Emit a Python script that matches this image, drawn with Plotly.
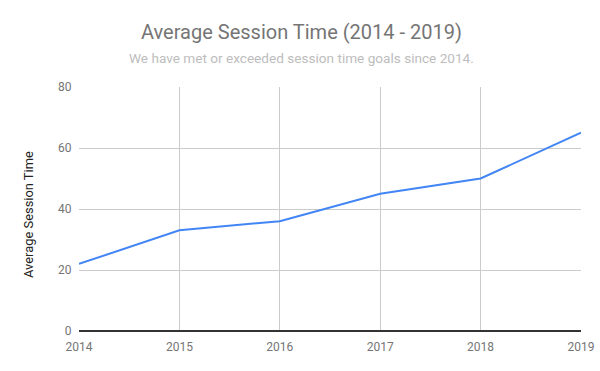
import plotly.graph_objects as go

years = [2014, 2015, 2016, 2017, 2018, 2019]
session_time = [22, 33, 36, 45, 50, 65]
y_ticks = [0, 20, 40, 60, 80]

W, H = 600, 371
L, R, T, B = 79, 19, 87, 40
ph = H - T - B
pw = W - L - R

def ypix(p):
    return (H - B - p) / ph

def xpix(p):
    return (p - L) / pw

fig = go.Figure()
fig.add_trace(go.Scatter(x=years, y=session_time, mode="lines",
                         line=dict(color="#4285F4", width=2), hoverinfo="x+y"))

fig.update_layout(
    width=W, height=H,
    margin=dict(l=L, r=R, t=T, b=B, autoexpand=False),
    plot_bgcolor="white", paper_bgcolor="white",
    font=dict(family="Roboto", size=12, color="#757575"),
    showlegend=False,
)

fig.add_annotation(text="Average Session Time (2014 - 2019)", x=xpix(301), xref="paper", y=ypix(32), yref="paper",
                   showarrow=False, font=dict(size=20, color="#757575"), xanchor="center", yanchor="middle")
fig.add_annotation(text="We have met or exceeded session time goals since 2014.", x=xpix(301), xref="paper", y=ypix(58), yref="paper",
                   showarrow=False, font=dict(size=13.6, color="#bdbdbd"), xanchor="center", yanchor="middle")
fig.add_annotation(text="Average Session Time", x=xpix(28), xref="paper", y=ypix(215), yref="paper", textangle=-90,
                   showarrow=False, font=dict(size=12.9, color="#222222"), xanchor="center", yanchor="middle")

fig.update_xaxes(range=[2014, 2019], tickvals=years, ticktext=[str(y) for y in years],
                 showgrid=True, gridcolor="#cccccc", gridwidth=1, zeroline=False,
                 showline=False, ticks="outside", ticklen=5, tickcolor="rgba(0,0,0,0)",
                 automargin=False, tickfont=dict(size=12, color="#757575"))
fig.update_yaxes(range=[0, 80], tickvals=y_ticks, showgrid=True, gridcolor="#cccccc", gridwidth=1,
                 zeroline=True, zerolinecolor="#333333", zerolinewidth=1.5,
                 showline=False, ticks="outside", ticklen=4, tickcolor="rgba(0,0,0,0)",
                 automargin=False, tickfont=dict(size=12, color="#757575"))

fig.write_html("out.html", config={"displayModeBar": False},
               post_script="document.body.style.margin='0';")
